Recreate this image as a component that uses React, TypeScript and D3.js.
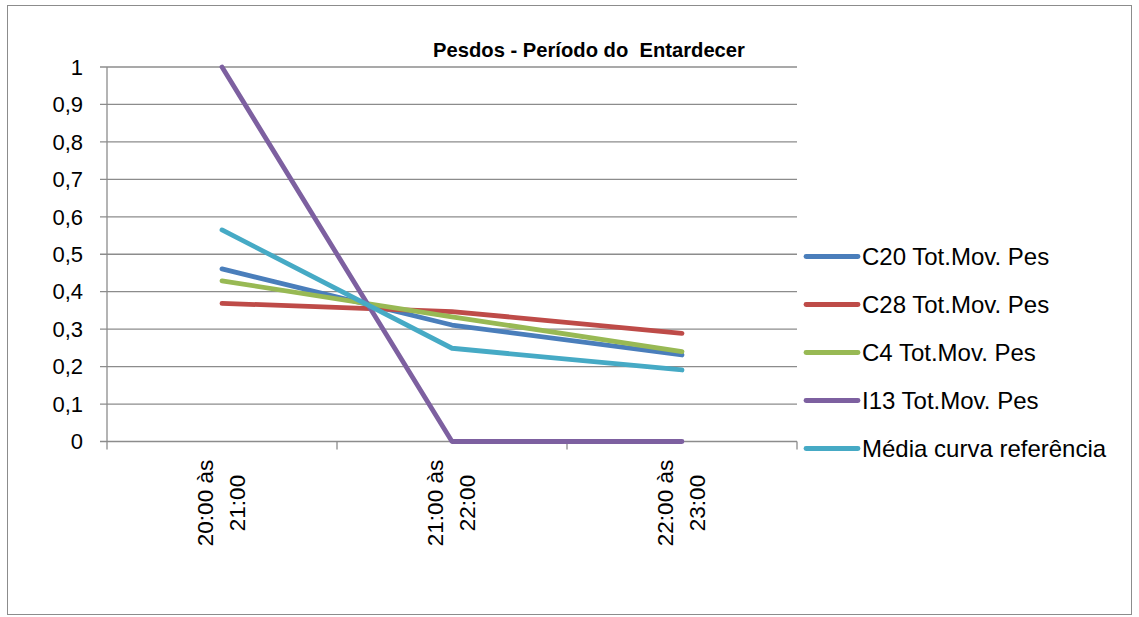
import React from "react";
import * as d3 from "d3";

const categories = ["20:00 às|21:00", "21:00 às|22:00", "22:00 às|23:00"];
const seriesNames = ["C20 Tot.Mov. Pes", "C28 Tot.Mov. Pes", "C4 Tot.Mov. Pes", "I13 Tot.Mov. Pes", "Média curva referência"];
const c20 = [0.461, 0.311, 0.231];
const c28 = [0.369, 0.347, 0.289];
const c4 = [0.429, 0.333, 0.240];
const i13 = [1, 0, 0];
const media = [0.565, 0.249, 0.191];
const colors = ["#4A7EBB", "#BE4B48", "#98B954", "#7D60A0", "#46AAC5"];
const yTicks = [0, 0.1, 0.2, 0.3, 0.4, 0.5, 0.6, 0.7, 0.8, 0.9, 1];
const title = "Pesdos - Período do  Entardecer";

const W = 1139, H = 617;
const left = 107, right = 797, top = 67, bottom = 441.5;
const font = "'Liberation Sans', Arial, sans-serif";

export default function App() {
  const series = [c20, c28, c4, i13, media];
  const x = d3.scaleBand<string>().domain(categories).range([left, right]);
  const y = d3.scaleLinear().domain([0, 1]).range([bottom, top]);
  const line = d3.line<number>()
    .x((_, i) => (x(categories[i]) as number) + x.bandwidth() / 2)
    .y((d) => y(d));
  const fmt = (v: number) => (Math.round(v * 10) / 10).toString().replace(".", ",");
  const grid = "#8C8C8C";
  return (
    <svg width={W} height={H} style={{ position: "absolute", left: 0, top: 0, background: "#fff" }}>
      <rect x={7.5} y={5.5} width={1124} height={609} fill="#fff" stroke="#8C8C8C" strokeWidth={1} />
      {yTicks.map((t) => (
        <g key={t}>
          <line x1={left - 7} x2={right} y1={y(t)} y2={y(t)} stroke={grid} strokeWidth={1.3} />
          <text x={83} y={y(t)} dy="0.35em" textAnchor="end" fontFamily={font} fontSize={22} fill="#000">{fmt(t)}</text>
        </g>
      ))}
      <line x1={left} x2={left} y1={top} y2={bottom} stroke={grid} strokeWidth={1.3} />
      {[...categories.map((c) => x(c) as number), right].map((tx, i) => (
        <line key={i} x1={tx} x2={tx} y1={bottom} y2={bottom + 8} stroke={grid} strokeWidth={1.3} />
      ))}
      {categories.map((c) => {
        const cx = (x(c) as number) + x.bandwidth() / 2;
        const [l1, l2] = c.split("|");
        return (
          <g key={c}>
            <text transform={`translate(${cx - 9},503) rotate(-90)`} textAnchor="middle" fontFamily={font} fontSize={22.5}>{l1}</text>
            <text transform={`translate(${cx + 23},503) rotate(-90)`} textAnchor="middle" fontFamily={font} fontSize={22.5}>{l2}</text>
          </g>
        );
      })}
      {series.map((s, i) => (
        <path key={i} d={line(s) as string} fill="none" stroke={colors[i]} strokeWidth={4.8} strokeLinecap="round" strokeLinejoin="round" />
      ))}
      <text x={589} y={57} textAnchor="middle" fontFamily={font} fontWeight="bold" fontSize={20.2} style={{ whiteSpace: "pre" }}>{title}</text>
      {seriesNames.map((n, i) => {
        const ly = 256.5 + i * 48;
        return (
          <g key={n}>
            <line x1={806} x2={858} y1={ly} y2={ly} stroke={colors[i]} strokeWidth={4.8} strokeLinecap="round" />
            <text x={862} y={ly} dy="0.35em" fontFamily={font} fontSize={24}>{n}</text>
          </g>
        );
      })}
    </svg>
  );
}
